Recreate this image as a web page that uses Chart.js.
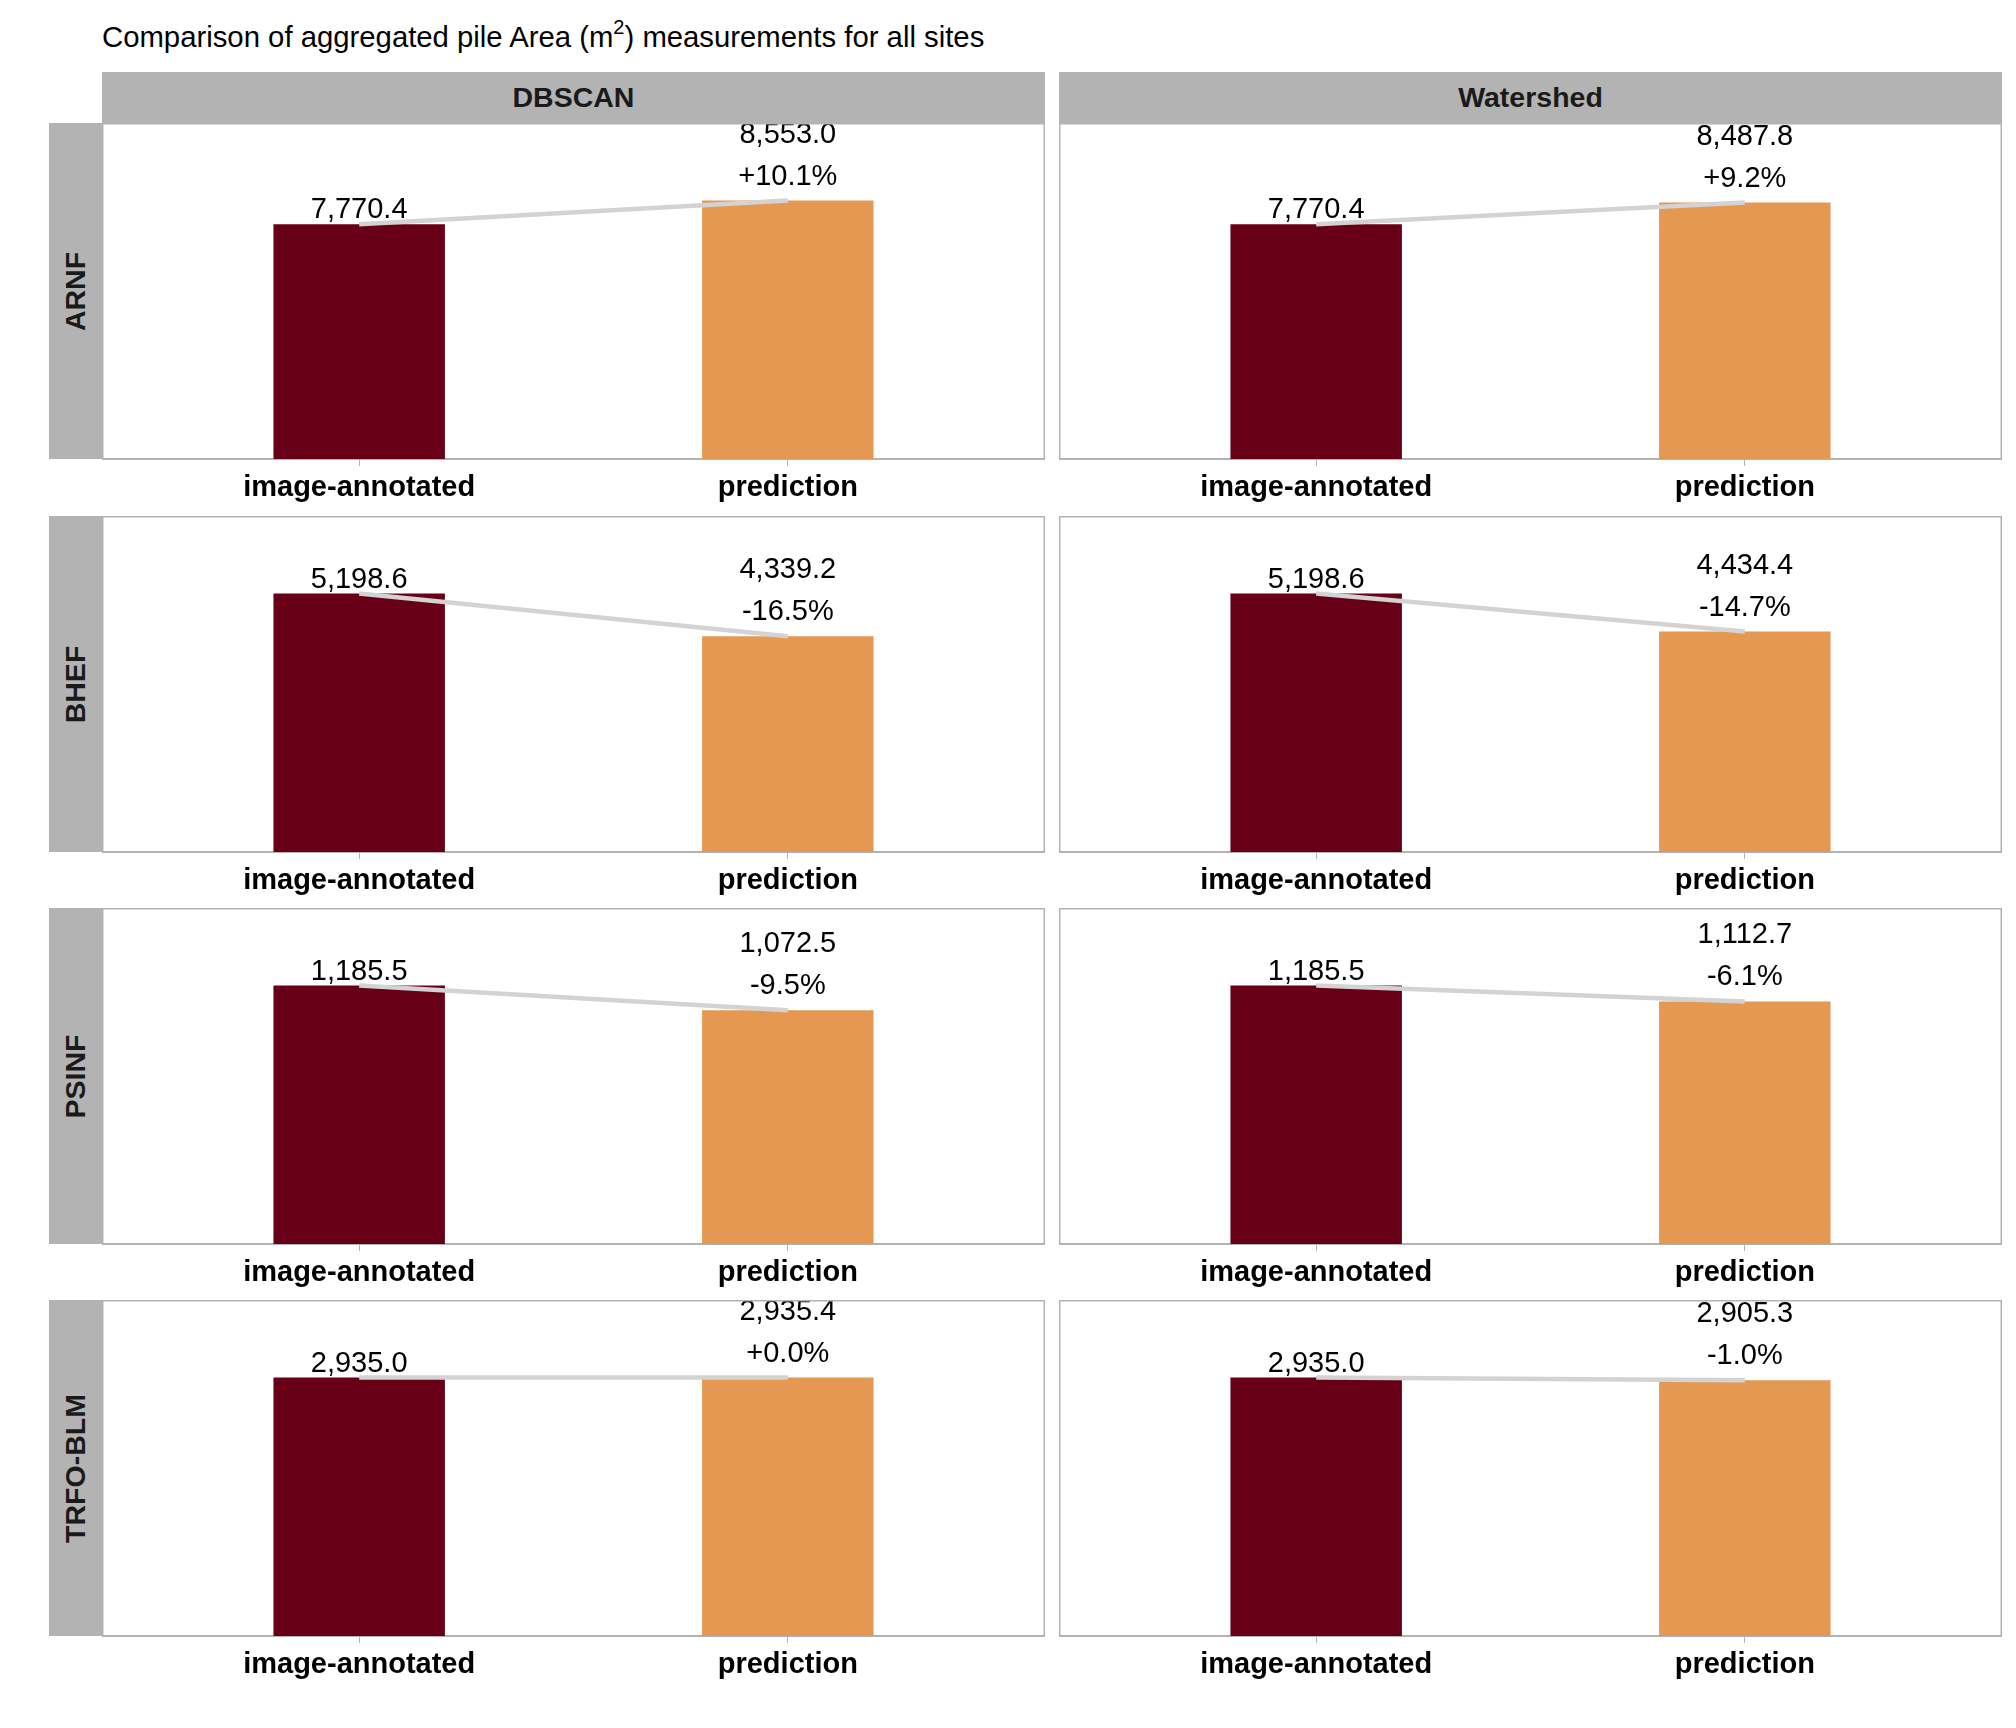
<!DOCTYPE html>
<html>
<head>
<meta charset="utf-8">
<title>Aggregated pile area comparison</title>
<script src="https://cdn.jsdelivr.net/npm/chart.js@4.4.1/dist/chart.umd.min.js"></script>
<style>
  body { margin: 0; background: #fff; font-family: "Liberation Sans", Arial, sans-serif; }
  #page { position: relative; width: 2016px; height: 1728px; }
  .title { position: absolute; left: 102px; top: 20px; font-size: 29.3px; color: #000; white-space: nowrap; }
  .title sup { font-size: 20px; vertical-align: 0; position: relative; top: -13px; }
  .strip { position: absolute; background: #b3b3b3; color: #1a1a1a; font-weight: bold; font-size: 28.5px;
           display: flex; align-items: center; justify-content: center; }
  .strip.row span { transform: rotate(-90deg); white-space: nowrap; }
  canvas { position: absolute; }
</style>
</head>
<body>
<div id="page">
  <div class="title">Comparison of aggregated pile Area (m<sup>2</sup>) measurements for all sites</div>
</div>
<script>
// data
const sites = ['ARNF', 'BHEF', 'PSINF', 'TRFO-BLM'];
const methods = ['DBSCAN', 'Watershed'];
const categories = ['image-annotated', 'prediction'];
const annotated = [7770.4, 5198.6, 1185.5, 2935.0];
const dbscanPred = [8553.0, 4339.2, 1072.5, 2935.4];
const watershedPred = [8487.8, 4434.4, 1112.7, 2905.3];

const predictions = { DBSCAN: dbscanPred, Watershed: watershedPred };
const barColors = ['#670016', '#e49852'];

// layout (px)
const panelX = [102, 1059];
const panelW = 943;
const panelY = [123, 516, 908, 1300];
const panelH = 336;
const topPad = 12;
const axisH = 60;

const page = document.getElementById('page');

function fmt(v) {
    return v.toLocaleString('en-US', { minimumFractionDigits: 1, maximumFractionDigits: 1 });
}
function pct(a, b) {
    const p = (b - a) / a * 100;
    return (p >= 0 ? '+' : '') + p.toFixed(1) + '%';
}

// column strips
methods.forEach((m, c) => {
    const d = document.createElement('div');
    d.className = 'strip';
    d.style.cssText = `left:${panelX[c]}px;top:72px;width:${panelW}px;height:51px;`;
    d.textContent = m;
    page.appendChild(d);
});

// row strips
sites.forEach((s, r) => {
    const d = document.createElement('div');
    d.className = 'strip row';
    d.style.cssText = `left:49px;top:${panelY[r]}px;width:53px;height:${panelH}px;`;
    d.innerHTML = `<span>${s}</span>`;
    page.appendChild(d);
});

// border around the panel (axis line covers the bottom)
const panelBorder = {
    id: 'panelBorder',
    afterDraw(chart) {
        const { ctx, chartArea: a } = chart;
        ctx.save();
        ctx.strokeStyle = '#b3b3b3';
        ctx.lineWidth = 1.5;
        ctx.beginPath();
        ctx.moveTo(a.left + 0.75, a.bottom);
        ctx.lineTo(a.left + 0.75, a.top + 0.75);
        ctx.lineTo(a.right - 0.75, a.top + 0.75);
        ctx.lineTo(a.right - 0.75, a.bottom);
        ctx.stroke();
        ctx.restore();
    }
};

// value labels on top of the bars
const barLabels = {
    id: 'barLabels',
    afterDatasetsDraw(chart) {
        const { ctx } = chart;
        const meta = chart.getDatasetMeta(0);
        const vals = chart.data.datasets[0].data.map(p => p.y);
        ctx.save();
        ctx.font = '29px "Liberation Sans", Arial, sans-serif';
        ctx.fillStyle = '#000';
        ctx.textAlign = 'center';
        ctx.textBaseline = 'alphabetic';
        meta.data.forEach((bar, i) => {
            if (i === 0) {
                ctx.fillText(fmt(vals[0]), bar.x, bar.y - 6);
            } else {
                ctx.fillText(pct(vals[0], vals[i]), bar.x, bar.y - 16);
                ctx.fillText(fmt(vals[i]), bar.x, bar.y - 58);
            }
        });
        ctx.restore();
    }
};

sites.forEach((site, r) => {
    const rowMax = Math.max(annotated[r], dbscanPred[r], watershedPred[r]);
    methods.forEach((m, c) => {
        const canvas = document.createElement('canvas');
        canvas.width = panelW;
        canvas.height = topPad + panelH + axisH;
        canvas.style.left = panelX[c] + 'px';
        canvas.style.top = (panelY[r] - topPad) + 'px';
        page.appendChild(canvas);

        const pts = [
            { x: 1, y: annotated[r] },
            { x: 2, y: predictions[m][r] }
        ];

        new Chart(canvas.getContext('2d'), {
            data: {
                datasets: [
                    {
                        type: 'bar',
                        data: pts,
                        backgroundColor: barColors,
                        categoryPercentage: 1,
                        barPercentage: 0.4,
                        order: 2
                    },
                    {
                        type: 'line',
                        data: pts,
                        borderColor: '#d3d3d3',
                        borderWidth: 4.5,
                        pointRadius: 0,
                        order: 1
                    }
                ]
            },
            options: {
                responsive: false,
                animation: false,
                devicePixelRatio: 1,
                layout: { padding: { top: topPad, left: 0, right: 0, bottom: 0 } },
                plugins: { legend: { display: false }, tooltip: { enabled: false } },
                scales: {
                    x: {
                        type: 'linear',
                        min: 0.4,
                        max: 2.6,
                        offset: false,
                        afterBuildTicks: s => { s.ticks = [{ value: 1 }, { value: 2 }]; },
                        afterFit: s => { s.height = axisH; },
                        grid: { offset: false, drawOnChartArea: false, drawTicks: true, tickLength: 7, color: '#b3b3b3', lineWidth: 1 },
                        border: { display: true, color: '#b3b3b3', width: 2 },
                        ticks: {
                            autoSkip: false,
                            maxRotation: 0,
                            padding: 5,
                            color: '#000',
                            font: { family: '"Liberation Sans", Arial, sans-serif', size: 29, weight: 'bold' },
                            callback: v => categories[v - 1]
                        }
                    },
                    y: {
                        display: false,
                        min: 0,
                        max: rowMax * 1.3
                    }
                }
            },
            plugins: [panelBorder, barLabels]
        });
    });
});
</script>
</body>
</html>
